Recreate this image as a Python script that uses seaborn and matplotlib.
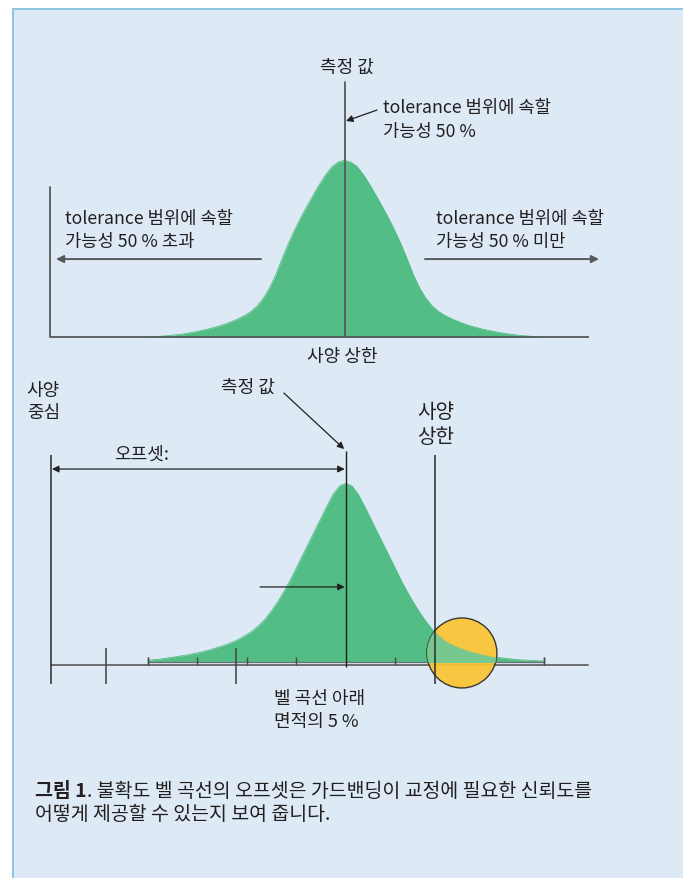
import matplotlib
matplotlib.use("Agg")
import matplotlib.pyplot as plt
import seaborn as sns
import pandas as pd
from matplotlib.patches import Rectangle, Ellipse

# ---------------- data ----------------
# bell-curve positions in units of sigma around the measured value
curve_x = [-4.0, -3.75, -3.5, -3.25, -3.0, -2.75,
           -2.5, -2.375, -2.25, -2.125, -2.0, -1.875, -1.75, -1.625, -1.5, -1.375,
           -1.25, -1.125, -1.0, -0.875, -0.75, -0.625, -0.5, -0.375, -0.25, -0.125,
           0.0,
           0.125, 0.25, 0.375, 0.5, 0.625, 0.75, 0.875, 1.0, 1.125, 1.25,
           1.375, 1.5, 1.625, 1.75, 1.875, 2.0, 2.125, 2.25, 2.375, 2.5,
           2.75, 3.0, 3.25, 3.5, 3.75, 4.0]
# relative heights of the upper bell curve
top_heights = [0.000, 0.004, 0.010, 0.018, 0.030, 0.045,
               0.064, 0.076, 0.090, 0.105, 0.123, 0.145, 0.176, 0.220, 0.278, 0.352,
               0.443, 0.528, 0.605, 0.676, 0.741, 0.804, 0.864, 0.919, 0.964, 0.990,
               1.000,
               0.990, 0.965, 0.920, 0.865, 0.805, 0.742, 0.677, 0.606, 0.530, 0.445,
               0.355, 0.280, 0.222, 0.178, 0.147, 0.125, 0.107, 0.092, 0.078, 0.066,
               0.047, 0.032, 0.020, 0.011, 0.005, 0.000]
# relative heights of the lower (offset) bell curve
bottom_heights = [0.008, 0.015, 0.025, 0.036, 0.049, 0.066,
                  0.088, 0.100, 0.114, 0.132, 0.152, 0.175, 0.205, 0.240, 0.285, 0.335,
                  0.393, 0.456, 0.525, 0.595, 0.665, 0.735, 0.805, 0.875, 0.940, 0.985,
                  1.000,
                  0.985, 0.940, 0.875, 0.805, 0.735, 0.665, 0.595, 0.525, 0.455, 0.390,
                  0.330, 0.275, 0.225, 0.182, 0.148, 0.120, 0.100, 0.085, 0.072, 0.060,
                  0.042, 0.027, 0.018, 0.011, 0.007, 0.004]
sigma_ticks = [-4, -3, -2, -1, 1, 2, 3, 4]      # scale ticks on the lower axis
marker_ticks = [-4.85, -2.22]                   # tall ticks on the lower axis
spec_center = -5.96                              # 사양 중심 (lower panel)
spec_limit = 1.80                                # 사양 상한 (lower panel)
measured = 0.0                                   # 측정 값
guard_zone = (2.35, 0.049)                       # highlighted 5 % tail (circle centre)
top_axis_left, top_axis_right = -5.89, 4.89
bottom_axis_right = 4.90

# ---------------- styling ----------------
W, H = 683, 879
BG = "#ddeaf5"
BORDER = "#8fc4e4"
GREEN = "#52bd84"
LIGHT_GREEN = "#6ec896"
YELLOW = "#fbc433"
TXT = "#231f20"
GREY = "#58595b"
MID = "#6d6e71"

sns.set_theme(style="white")
plt.rcParams["font.family"] = ["Noto Sans CJK KR", "DejaVu Sans"]
plt.rcParams["text.color"] = TXT

fig = plt.figure(figsize=(W / 100, H / 100), dpi=100)
fig.patch.set_facecolor("white")

# background panel in pixel coordinates
bg = fig.add_axes([0, 0, 1, 1], zorder=-5)
bg.set_xlim(0, W)
bg.set_ylim(H, 0)
bg.set_axis_off()
bg.add_patch(Rectangle((12.5, 9.5), 700, 900, facecolor=BG, edgecolor=BORDER, lw=1.4))

CAP = 14
bold = bg.text(35, 792, "그림 1", fontsize=CAP, fontweight="bold", va="center", ha="left")
bg.annotate(". 불확도 벨 곡선의 오프셋은 가드밴딩이 교정에 필요한 신뢰도를",
            xy=(1, 0.5), xycoords=bold, va="center", ha="left", fontsize=CAP)
bg.text(35, 815, "어떻게 제공할 수 있는지 보여 줍니다.", fontsize=CAP, va="center", ha="left")


def panel_axes(x0_px, sig_px, base_px, h_px, top_px, bot_px):
    ax = fig.add_axes([0, 1 - bot_px / H, 1, (bot_px - top_px) / H])
    ax.set_xlim(-x0_px / sig_px, (W - x0_px) / sig_px)
    ax.set_ylim((base_px - bot_px) / h_px, (base_px - top_px) / h_px)
    ax.set_axis_off()
    ax.set_facecolor("none")
    return ax


FS = 13
FT = 12.75

# ---------------- upper panel ----------------
ax1 = panel_axes(344.5, 50.0, 338.3, 177.0, 30, 370)
top_df = pd.DataFrame({"x": curve_x, "h": top_heights})
ax1.fill_between(top_df["x"], 0, top_df["h"], color=GREEN, lw=0, zorder=2)
sns.lineplot(data=top_df, x="x", y="h", ax=ax1, color=GREEN, lw=0.6, zorder=2)
ax1.set_axis_off()

ax1.plot([top_axis_left, top_axis_right], [0, 0], color=GREY, lw=1.3, zorder=3, solid_capstyle="butt")
ax1.plot([top_axis_left, top_axis_left], [0, 0.849], color=GREY, lw=1.3, zorder=3)
ax1.plot([measured, measured], [0, 1.442], color=GREY, lw=1.3, zorder=3)

ax1.text(0.05, 1.527, "측정 값", fontsize=FS, ha="center", va="center")
ax1.annotate("", xy=(0.03, 1.222), xytext=(0.65, 1.284),
             arrowprops=dict(arrowstyle="-|>", color=TXT, lw=0.9, mutation_scale=10,
                             shrinkA=0, shrinkB=0))
ax1.text(0.77, 1.301, "tolerance 범위에 속할", fontsize=FT, ha="left", va="center")
ax1.text(0.77, 1.165, "가능성 50 %", fontsize=FT, ha="left", va="center")

ax1.text(-5.59, 0.674, "tolerance 범위에 속할", fontsize=FT, ha="left", va="center")
ax1.text(-5.59, 0.544, "가능성 50 % 초과", fontsize=FT, ha="left", va="center")
ax1.annotate("", xy=(-5.77, 0.442), xytext=(-1.67, 0.442),
             arrowprops=dict(arrowstyle="-|>", color=GREY, lw=1.4, mutation_scale=11,
                             shrinkA=0, shrinkB=0))

ax1.text(1.83, 0.674, "tolerance 범위에 속할", fontsize=FT, ha="left", va="center")
ax1.text(1.83, 0.544, "가능성 50 % 미만", fontsize=FT, ha="left", va="center")
ax1.annotate("", xy=(5.09, 0.442), xytext=(1.61, 0.442),
             arrowprops=dict(arrowstyle="-|>", color=GREY, lw=1.4, mutation_scale=11,
                             shrinkA=0, shrinkB=0))

ax1.text(-0.05, -0.106, "사양 상한", fontsize=FS, ha="center", va="center")

# ---------------- lower panel ----------------
ax2 = panel_axes(345.7, 49.45, 662.7, 178.4, 370, 740)
bot_df = pd.DataFrame({"x": curve_x, "h": bottom_heights})
ax2.fill_between(bot_df["x"], 0, bot_df["h"], color=GREEN, lw=0, zorder=2)
sns.lineplot(data=bot_df, x="x", y="h", ax=ax2, color=GREEN, lw=0.6, zorder=2)
ax2.set_axis_off()

# axis: main line and the sigma-scale strip
ax2.plot([spec_center, bottom_axis_right], [-0.0185, -0.0185], color=MID, lw=1.4, zorder=2.5)
ax2.plot([curve_x[0], curve_x[-1]], [0, 0], color=MID, lw=0.9, zorder=2.5)
ax2.vlines([curve_x[0], curve_x[-1]] + sigma_ticks, -0.0185, 0.026, color="#4a4a4c", lw=1.0, zorder=2.5)
ax2.vlines(marker_ticks, -0.125, 0.077, color="#4a4a4c", lw=1.2, zorder=2.5)

# highlighted tail region
ell_w = 2 * 35 / 49.45
ell_h = 2 * 35 / 178.4
circ = Ellipse(guard_zone, ell_w, ell_h, facecolor=YELLOW, edgecolor="#2b2b2b",
               lw=1.0, alpha=0.93, zorder=3)
ax2.add_patch(circ)
clip_ell = Ellipse(guard_zone, ell_w, ell_h, transform=ax2.transData)
inner = ax2.fill_between(bot_df["x"], 0, bot_df["h"], color=LIGHT_GREEN, lw=0, alpha=0.92, zorder=4)
inner.set_clip_path(clip_ell)

# vertical reference lines
ax2.vlines([spec_center, spec_limit], -0.125, 1.159, color="#2b2b2b", lw=1.1, zorder=6)
ax2.vlines([measured], -0.03, 1.181, color="#1e1e1e", lw=1.0, zorder=6)

ax2.text(-6.45, 1.523, "사양", fontsize=FS, ha="left", va="center")
ax2.text(-6.45, 1.400, "중심", fontsize=FS, ha="left", va="center")
ax2.text(1.816, 1.400, "사양", fontsize=14.5, ha="center", va="center")
ax2.text(1.816, 1.265, "상한", fontsize=14.5, ha="center", va="center")

ax2.text(-1.98, 1.540, "측정 값", fontsize=FS, ha="center", va="center")
ax2.annotate("", xy=(-0.03, 1.192), xytext=(-1.25, 1.506),
             arrowprops=dict(arrowstyle="-|>", color=TXT, lw=0.9, mutation_scale=10,
                             shrinkA=0, shrinkB=0))

ax2.text(-4.12, 1.164, "오프셋:", fontsize=FS, ha="center", va="center")
ax2.annotate("", xy=(spec_center + 0.02, 1.080), xytext=(measured - 0.02, 1.080),
             arrowprops=dict(arrowstyle="<|-|>", color=TXT, lw=0.9, mutation_scale=10,
                             shrinkA=0, shrinkB=0))
ax2.annotate("", xy=(measured - 0.02, 0.419), xytext=(-1.73, 0.419),
             arrowprops=dict(arrowstyle="-|>", color=TXT, lw=0.9, mutation_scale=10,
                             shrinkA=0, shrinkB=0))

ax2.text(-1.46, -0.200, "벨 곡선 아래", fontsize=FS, ha="left", va="center")
ax2.text(-1.46, -0.331, "면적의 5 %", fontsize=FS, ha="left", va="center")

fig.savefig("out.png", dpi=100, facecolor=fig.get_facecolor())
